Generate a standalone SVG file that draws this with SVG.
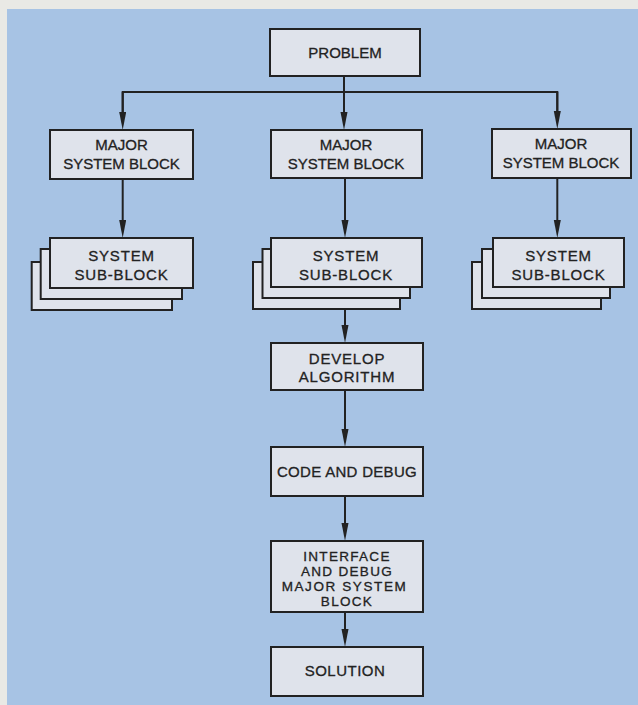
<svg xmlns="http://www.w3.org/2000/svg" width="638" height="705" viewBox="0 0 638 705">
<defs>
<marker id="ah" markerUnits="userSpaceOnUse" markerWidth="20" markerHeight="8" refX="8" refY="3.5" orient="auto">
<path d="M0,0 L18,3.5 L0,7 Z" fill="#222"/>
</marker>
<style>
.box{fill:#dfe3eb;stroke:#222;stroke-width:2}
.t{font-family:"Liberation Sans","Arial",sans-serif;font-size:15px;fill:#222;stroke:#222;stroke-width:0.3;text-anchor:middle}
.s{font-size:13.5px}
.c{fill:none;stroke:#222;stroke-width:2}
</style>
</defs>
<rect x="0" y="0" width="638" height="705" fill="#e9e9e5"/>
<rect x="7" y="9" width="631" height="696" fill="#a7c3e4"/>

<g id="connectors">
<path class="c" d="M344,76 V120" marker-end="url(#ah)"/>
<path class="c" d="M122.7,120 V92 H557.3 V119"/>
<path class="c" d="M122.7,92 V120" marker-end="url(#ah)"/>
<path class="c" d="M557.3,92 V119" marker-end="url(#ah)"/>
<path class="c" d="M122.7,179 V228" marker-end="url(#ah)"/>
<path class="c" d="M345,178 V228" marker-end="url(#ah)"/>
<path class="c" d="M557.3,178 V228" marker-end="url(#ah)"/>
<path class="c" d="M345,309 V333" marker-end="url(#ah)"/>
<path class="c" d="M345,390 V437" marker-end="url(#ah)"/>
<path class="c" d="M345,496 V531" marker-end="url(#ah)"/>
<path class="c" d="M345,612 V637" marker-end="url(#ah)"/>
</g>

<g id="problem">
<rect class="box" x="270" y="29" width="150" height="47"/>
<text class="t" x="345" y="58">PROBLEM</text>
</g>

<g id="major-left">
<rect class="box" x="50" y="130" width="143" height="49"/>
<text class="t" x="121.5" y="150">MAJOR</text>
<text class="t" x="121.5" y="169">SYSTEM BLOCK</text>
</g>
<g id="major-middle">
<rect class="box" x="271" y="130" width="151" height="48"/>
<text class="t" x="346" y="150">MAJOR</text>
<text class="t" x="346" y="169">SYSTEM BLOCK</text>
</g>
<g id="major-right">
<rect class="box" x="492" y="129" width="139" height="49"/>
<text class="t" x="561" y="149">MAJOR</text>
<text class="t" x="561" y="168">SYSTEM BLOCK</text>
</g>

<g id="sub-left">
<rect class="box" x="31.7" y="262" width="140.3" height="48"/>
<rect class="box" x="40.7" y="249" width="141.3" height="50"/>
<rect class="box" x="50" y="238" width="143" height="50"/>
<text class="t" x="121.5" y="261" letter-spacing="0.8">SYSTEM</text>
<text class="t" x="121.5" y="280" letter-spacing="0.8">SUB-BLOCK</text>
</g>
<g id="sub-middle">
<rect class="box" x="253" y="262" width="147" height="47"/>
<rect class="box" x="262.5" y="249" width="147.5" height="49"/>
<rect class="box" x="271" y="238" width="151" height="49"/>
<text class="t" x="346" y="261" letter-spacing="0.8">SYSTEM</text>
<text class="t" x="346" y="280" letter-spacing="0.8">SUB-BLOCK</text>
</g>
<g id="sub-right">
<rect class="box" x="472" y="262" width="129" height="47"/>
<rect class="box" x="482" y="249" width="128" height="49"/>
<rect class="box" x="493" y="238" width="131" height="49"/>
<text class="t" x="558.5" y="261" letter-spacing="0.8">SYSTEM</text>
<text class="t" x="558.5" y="280" letter-spacing="0.8">SUB-BLOCK</text>
</g>

<g id="develop">
<rect class="box" x="271" y="343" width="152" height="47"/>
<text class="t" x="347" y="363.5" letter-spacing="0.8">DEVELOP</text>
<text class="t" x="347" y="382" letter-spacing="0.8">ALGORITHM</text>
</g>
<g id="code">
<rect class="box" x="271" y="447" width="152" height="49"/>
<text class="t" x="347" y="477" letter-spacing="0.3">CODE AND DEBUG</text>
</g>
<g id="interface">
<rect class="box" x="271" y="541" width="152" height="71"/>
<text class="t s" x="347" y="560.5" letter-spacing="1.3">INTERFACE</text>
<text class="t s" x="347" y="575.8" letter-spacing="1.3">AND DEBUG</text>
<text class="t s" x="344.5" y="591.1" letter-spacing="1.6">MAJOR SYSTEM</text>
<text class="t s" x="347" y="606.4" letter-spacing="1.3">BLOCK</text>
</g>
<g id="solution">
<rect class="box" x="271" y="647" width="152" height="49"/>
<text class="t" x="345" y="676" letter-spacing="0.5">SOLUTION</text>
</g>
</svg>
